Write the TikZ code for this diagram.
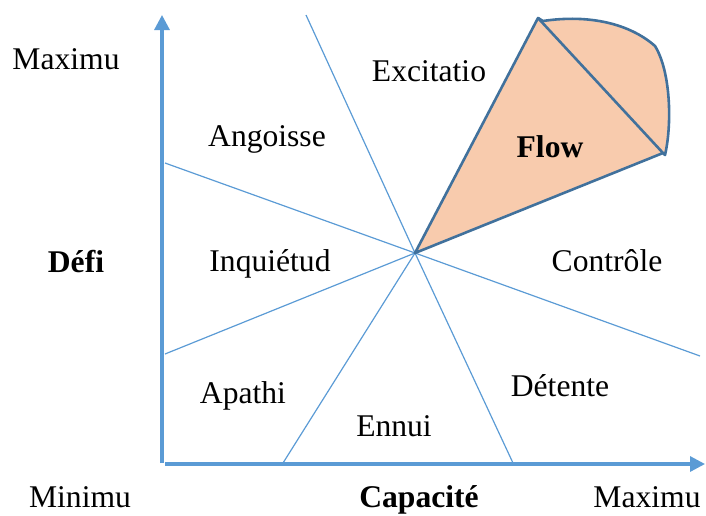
\documentclass[tikz,border=0pt]{standalone}
\usepackage{fontspec}
\setmainfont{Liberation Serif}
\usetikzlibrary{arrows.meta}
\definecolor{axisblue}{HTML}{5B9BD5}
\definecolor{flowline}{HTML}{41719C}
\definecolor{flowfill}{HTML}{F8CBAD}

\begin{document}
\begin{tikzpicture}[x=0.5pt,y=-0.5pt,
    lbl/.style={anchor=base,inner sep=0pt,font=\fontsize{15.8}{19}\selectfont},
    gras/.style={lbl,font=\fontsize{15.8}{19}\selectfont\bfseries},
    zone/.style={axisblue,line width=0.6pt},
    axe/.style={axisblue,line width=1.6pt,-{Triangle[width=7.5pt,length=7.5pt]}},
    bord/.style={flowline,line width=1.3pt,line join=round}]
\useasboundingbox (0,0) rectangle (706,515);
\coordinate (o) at (415,253);
\coordinate (haut) at (306,15);
\coordinate (gh) at (165,163);
\coordinate (gb) at (165,354);
\coordinate (bg) at (283,463);
\coordinate (bd) at (513,463);
\coordinate (dr) at (700,356);
\coordinate (y0) at (162,463);
\coordinate (y1) at (162,15);
\coordinate (x0) at (165,464);
\coordinate (x1) at (705,464);
\coordinate (t) at (538,18);
\coordinate (r) at (663,153);
\path[zone] (o) edge (haut)
                edge (gh)
                edge (gb)
                edge (bg)
                edge (bd)
                edge (dr);
\draw[axe] (y0) -- (y1);
\draw[axe] (x0) -- (x1);
\fill[flowfill] (o) -- (t) -- (543,21) .. controls (590,14) and (630,24) .. (655,46)
    .. controls (671,72) and (672,125) .. (665,155) -- (r) -- cycle;
\draw[bord] (o) -- (t) -- (r) -- cycle;
\draw[bord] (t) -- (543,21) .. controls (590,14) and (630,24) .. (655,46)
    .. controls (671,72) and (672,125) .. (665,155) -- (r);
\node[lbl] (maxy) at (66,69) {Maximu};
\node[gras] (defi) at (76,272) {Défi};
\node[lbl] (minx) at (80,507) {Minimu};
\node[gras] (capa) at (419,507) {Capacité};
\node[lbl] (maxx) at (647,507) {Maximu};
\node[lbl] (excit) at (429,81) {Excitatio};
\node[lbl] (angoisse) at (267,146) {Angoisse};
\node[lbl] (inquiet) at (270,271) {Inquiétud};
\node[gras] (flow) at (550,157) {Flow};
\node[lbl] (controle) at (607,271) {Contrôle};
\node[lbl] (apathie) at (243,403) {Apathi};
\node[lbl] (ennui) at (394,436) {Ennui};
\node[lbl] (detente) at (560,396) {Détente};
\end{tikzpicture}
\end{document}
